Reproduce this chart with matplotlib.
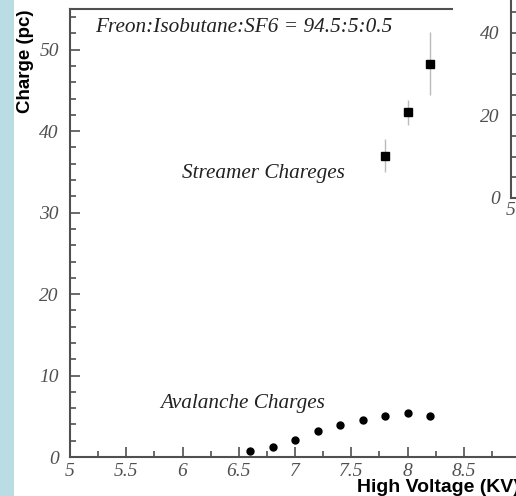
import numpy as np
import matplotlib
matplotlib.use("Agg")
from matplotlib import pyplot as plt
from matplotlib.patches import Rectangle

# streamer charges (squares with error bars)
str_hv = [7.8, 8.0, 8.2]
str_q = [37.0, 42.3, 48.3]
str_err = [2.0, 1.5, 3.9]

# avalanche charges (dots)
av_hv = [6.6, 6.8, 7.0, 7.2, 7.4, 7.6, 7.8, 8.0, 8.2]
av_q = [0.75, 1.25, 2.05, 3.2, 3.9, 4.55, 5.05, 5.45, 5.0]

xticks = [5, 5.5, 6, 6.5, 7, 7.5, 8, 8.5, 9]
xticklabels = ["5", "5.5", "6", "6.5", "7", "7.5", "8", "8.5", "9"]
yticks = [0, 10, 20, 30, 40, 50]

W, H = 516, 496
fig = plt.figure(figsize=(W / 100, H / 100), dpi=100)
fig.patch.set_facecolor("white")

grey = "#505050"
serif = ["Liberation Serif", "DejaVu Serif"]
sans = ["Liberation Sans", "DejaVu Sans"]

# light blue strip on the left
fig.patches.append(Rectangle((0, 0), 14 / W, 1, transform=fig.transFigure,
                             facecolor="#b9dde3", edgecolor="none", zorder=0))

# main axes: x 5..9.2 (right part is off the picture)
x0, x1 = 5, 9.2
ppu = 112.5
left = 70 / W
right = (70 + (x1 - x0) * ppu) / W
bottom = (H - 457) / H
top = (H - 9) / H
ax = fig.add_axes([left, bottom, right - left, top - bottom])
ax.set_xlim(x0, x1)
ax.set_ylim(0, 55)

ax.errorbar(str_hv, str_q, yerr=str_err, fmt="s", color="black", ms=6,
            ecolor="#bbbbbb", elinewidth=1, capsize=0, zorder=3)
ax.plot(av_hv, av_q, "o", color="black", ms=5, zorder=3)

ax.text(5.22, 52.7, "Freon:Isobutane:SF6 = 94.5:5:0.5", family=serif,
        style="italic", fontsize=15.3, color="#222222", va="center")
ax.text(6.0, 34.8, "Streamer Chareges", family=serif, style="italic",
        fontsize=15.3, color="#222222", va="center")
ax.text(5.8, 6.6, "Avalanche Charges", family=serif, style="italic",
        fontsize=15.3, color="#222222", va="center")

ax.set_xticks(xticks)
ax.set_xticklabels(xticklabels)
ax.set_yticks(yticks)
ax.set_xticks(np.arange(5, 9.2, 0.25), minor=True)
ax.set_yticks(np.arange(0, 55.1, 2), minor=True)
ax.tick_params(which="both", direction="in", colors=grey, width=1.2)
ax.tick_params(which="major", length=7)
ax.tick_params(which="minor", length=4)
ax.tick_params(axis="y", pad=8)
ax.tick_params(axis="x", pad=4)
for lab in ax.get_xticklabels() + ax.get_yticklabels():
    lab.set_family(serif)
    lab.set_style("italic")
    lab.set_fontsize(14)
for s in ["left", "bottom", "top"]:
    ax.spines[s].set_color(grey)
    ax.spines[s].set_linewidth(1.5)
ax.spines["right"].set_visible(False)

fig.text(25 / W, 1 - 61 / H, "Charge (pc)", rotation=90, ha="center",
         va="center", fontsize=13.5, fontweight="bold", family=sans)
fig.text(357 / W, 1 - 487 / H, "High Voltage (KV)", ha="left", va="center",
         fontsize=14, fontweight="bold", family=sans)

# second chart peeking in at the top right
fig.patches.append(Rectangle((453 / W, 1 - 215 / H), 1, 215 / H,
                             transform=fig.transFigure, facecolor="white",
                             edgecolor="none", zorder=2))
ax2 = fig.add_axes([511 / W, 1 - 198 / H, 0.5, 198 / H], zorder=3)
ax2.set_xlim(5, 9)
ax2.set_ylim(0, 47.9)
ax2.set_yticks([0, 20, 40])
ax2.set_yticks(np.arange(0, 47.9, 5), minor=True)
ax2.set_xticks([5])
ax2.set_xticklabels(["5"])
ax2.tick_params(which="both", direction="in", colors=grey, width=1.2)
ax2.tick_params(which="major", length=7)
ax2.tick_params(which="minor", length=4)
ax2.tick_params(axis="y", pad=8)
ax2.tick_params(axis="x", pad=3)
for lab in ax2.get_xticklabels() + ax2.get_yticklabels():
    lab.set_family(serif)
    lab.set_style("italic")
    lab.set_fontsize(14)
for s in ["left", "bottom"]:
    ax2.spines[s].set_color(grey)
    ax2.spines[s].set_linewidth(1.5)
ax2.spines["top"].set_visible(False)
ax2.spines["right"].set_visible(False)
ax2.patch.set_alpha(0)

fig.savefig("out.png", dpi=100)
